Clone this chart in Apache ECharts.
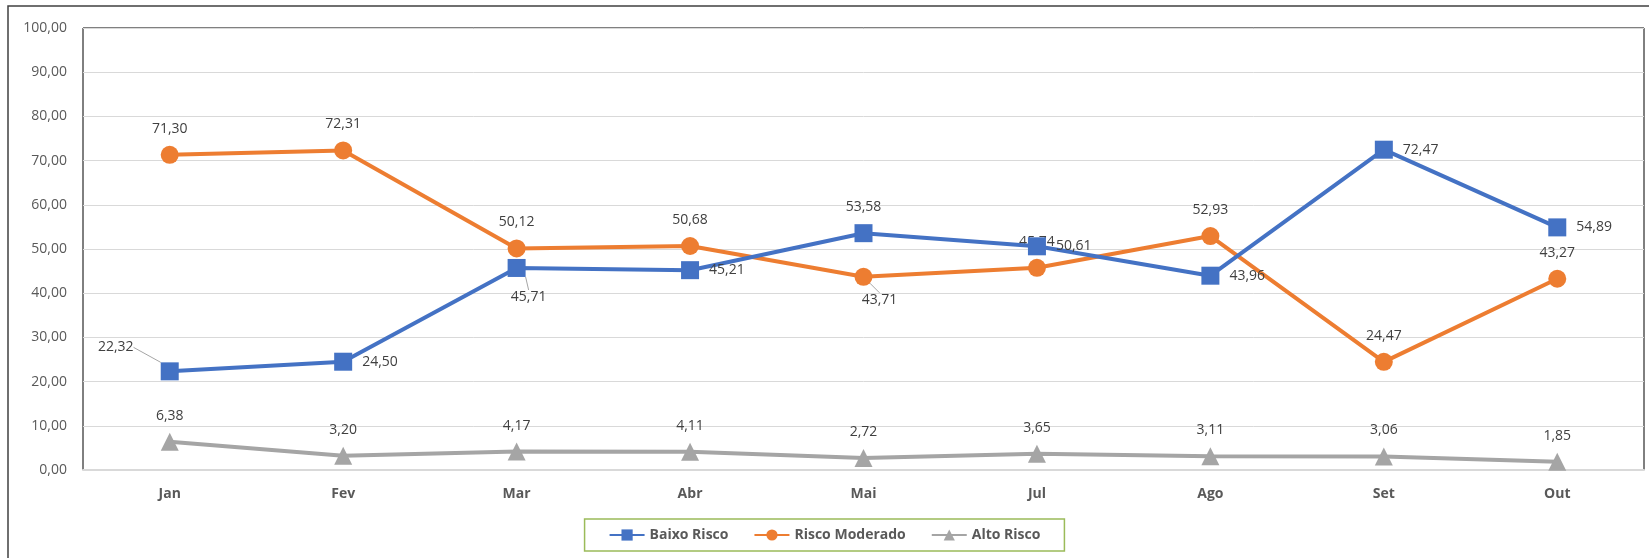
<!DOCTYPE html>
<html>
<head>
<meta charset="utf-8">
<script src="https://cdn.jsdelivr.net/npm/echarts@6/dist/echarts.min.js"></script>
<style>
    html, body { margin: 0; padding: 0; background: #fff; }
    #chart { width: 1649px; height: 558px; }
</style>
</head>
<body>
<div id="chart"></div>
<script>
    const months = ['Jan', 'Fev', 'Mar', 'Abr', 'Mai', 'Jul', 'Ago', 'Set', 'Out']
    const baixoRisco = [22.32, 24.50, 45.71, 45.21, 53.58, 50.61, 43.96, 72.47, 54.89]
    const riscoModerado = [71.30, 72.31, 50.12, 50.68, 43.71, 45.74, 52.93, 24.47, 43.27]
    const altoRisco = [6.38, 3.20, 4.17, 4.11, 2.72, 3.65, 3.11, 3.06, 1.85]
    const yTicks = [0, 100, 10]

    const fmt = v => Number(v).toFixed(2).replace('.', ',')
    const FONT = '"Open Sans", "Noto Sans", sans-serif'

    // label placement per point
    const baixoPos = ['custom', 'right', 'custom', 'right', 'top', 'right', 'right', 'right', 'right']
    const moderadoPos = ['top', 'top', 'top', 'top', 'custom', 'top', 'top', 'top', 'top']
    const moved = {
        'Baixo Risco': { 0: [-54, -24], 2: [12, 29] },
        'Risco Moderado': { 4: [16, 23] }
    }

    const baseLabel = {
        show: true,
        color: '#404040',
        fontSize: 14,
        fontFamily: FONT,
        distance: 10,
        formatter: p => fmt(p.value)
    }

    const buildData = (vals, pos) => vals.map((v, i) => {
        if (pos[i] === 'custom') {
            return { value: v, label: { position: 'inside' }, labelLine: { show: true } }
        }
        return { value: v, label: { position: pos[i] } }
    })

    const labelLayout = name => params => {
        const off = moved[name] && moved[name][params.dataIndex]
        if (!off) return {}
        return {
            x: params.rect.x + params.rect.width / 2 + off[0],
            y: params.rect.y + params.rect.height / 2 + off[1],
            align: 'center',
            verticalAlign: 'middle'
        }
    }

    const chart = echarts.init(document.getElementById('chart'))
    const option = {
        animation: false,
        graphic: [{
            type: 'rect',
            shape: { x: 8, y: 6, width: 1700, height: 600 },
            style: { fill: 'none', stroke: '#404040', lineWidth: 1.5 },
            silent: true,
            z: -10
        }],
        grid: {
            left: 83,
            right: 5,
            top: 28,
            bottom: 88,
            show: true,
            borderColor: '#000',
            borderWidth: 1
        },
        legend: {
            data: ['Baixo Risco', 'Risco Moderado', 'Alto Risco'],
            left: 'center',
            bottom: 7,
            itemWidth: 35,
            itemHeight: 14,
            itemGap: 25,
            padding: [9, 24, 9, 24],
            borderColor: '#9BBB59',
            borderWidth: 1.5,
            textStyle: {
                color: '#595959',
                fontSize: 14,
                fontWeight: 'bold',
                fontFamily: FONT
            }
        },
        xAxis: {
            type: 'category',
            data: months,
            axisTick: { show: false },
            axisLine: { lineStyle: { color: '#D9D9D9', width: 2 } },
            axisLabel: {
                color: '#595959',
                fontSize: 14,
                fontWeight: 'bold',
                fontFamily: FONT,
                margin: 17
            }
        },
        yAxis: {
            type: 'value',
            min: yTicks[0],
            max: yTicks[1],
            interval: yTicks[2],
            axisLine: { show: false },
            axisTick: { show: false },
            axisLabel: {
                color: '#595959',
                fontSize: 14,
                fontFamily: FONT,
                margin: 16,
                formatter: v => fmt(v)
            },
            splitLine: { lineStyle: { color: '#D9D9D9', width: 1 } }
        },
        series: [
            {
                name: 'Baixo Risco',
                type: 'line',
                data: buildData(baixoRisco, baixoPos),
                color: '#4472C4',
                symbol: 'rect',
                symbolSize: 18,
                lineStyle: { width: 4 },
                label: baseLabel,
                labelLine: { show: false, lineStyle: { color: '#A5A5A5', width: 1 } },
                labelLayout: labelLayout('Baixo Risco'),
                z: 3
            },
            {
                name: 'Risco Moderado',
                type: 'line',
                data: buildData(riscoModerado, moderadoPos),
                color: '#ED7D31',
                symbol: 'circle',
                symbolSize: 18,
                lineStyle: { width: 4 },
                label: baseLabel,
                labelLine: { show: false, lineStyle: { color: '#A5A5A5', width: 1 } },
                labelLayout: labelLayout('Risco Moderado'),
                z: 2
            },
            {
                name: 'Alto Risco',
                type: 'line',
                data: altoRisco,
                color: '#A5A5A5',
                symbol: 'triangle',
                symbolSize: 18,
                lineStyle: { width: 4 },
                label: Object.assign({}, baseLabel, { position: 'top' }),
                z: 1
            }
        ]
    }
    chart.setOption(option)
</script>
</body>
</html>
